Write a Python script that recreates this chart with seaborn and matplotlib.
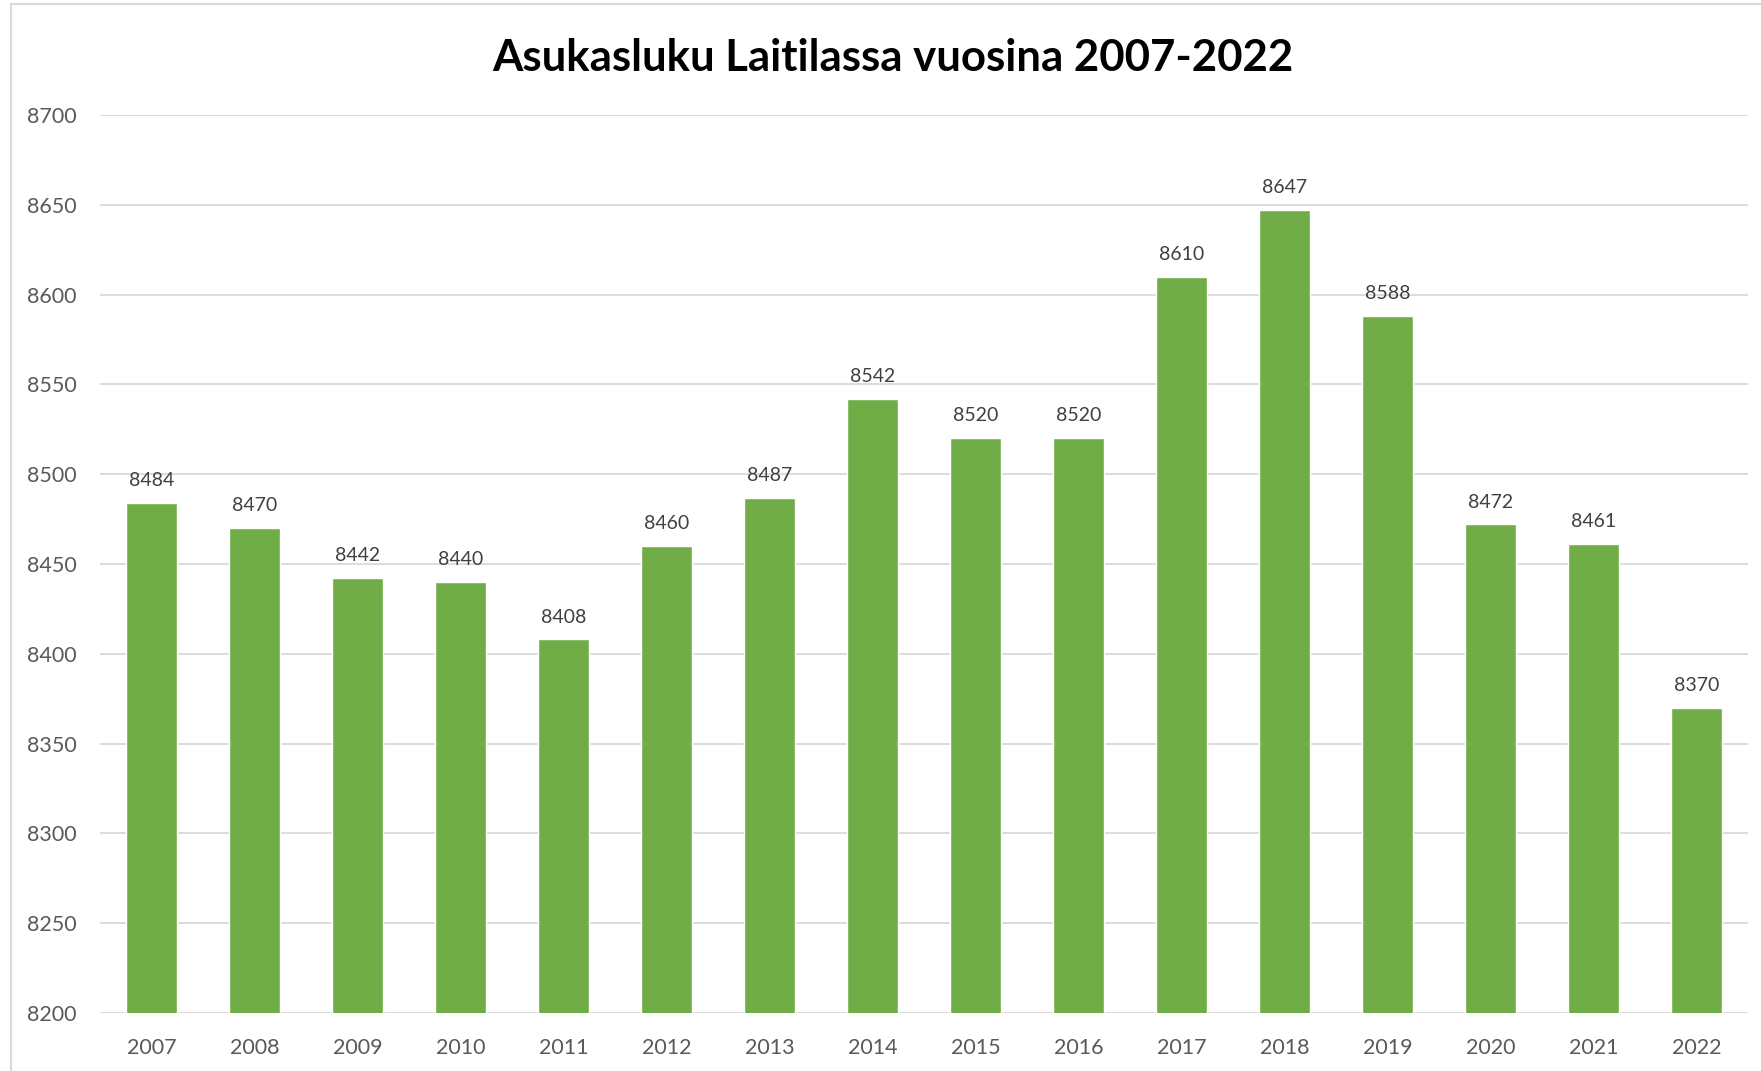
import matplotlib
matplotlib.use("Agg")
import matplotlib.pyplot as plt
import seaborn as sns
import pandas as pd
from matplotlib.patches import Rectangle

years = ["2007", "2008", "2009", "2010", "2011", "2012", "2013", "2014",
         "2015", "2016", "2017", "2018", "2019", "2020", "2021", "2022"]
population = [8484, 8470, 8442, 8440, 8408, 8460, 8487, 8542,
              8520, 8520, 8610, 8647, 8588, 8472, 8461, 8370]
y_ticks = [8200, 8250, 8300, 8350, 8400, 8450, 8500, 8550, 8600, 8650, 8700]

df = pd.DataFrame({"year": years, "population": population})

sns.set_style("white")
plt.rcParams["font.family"] = ["Lato", "DejaVu Sans"]

fig = plt.figure(figsize=(17.61, 10.71), dpi=100)
ax = fig.add_axes([100 / 1761, 1 - 1013 / 1071, 1648 / 1761, (1013 - 115) / 1071])

sns.barplot(data=df, x="year", y="population", color="#70AD47",
            saturation=1, width=0.5, ax=ax)

ax.set_ylim(8200, 8700)
ax.set_yticks(y_ticks)
ax.set_xlim(-0.5, len(years) - 0.5)
ax.yaxis.grid(True, color="#D9D9D9", linewidth=1.3)
ax.set_axisbelow(True)
for s in ax.spines.values():
    s.set_visible(False)
ax.set_xlabel("")
ax.set_ylabel("")
ax.tick_params(axis="both", length=0, labelsize=15.5, colors="#595959")
ax.tick_params(axis="y", pad=17)
ax.tick_params(axis="x", pad=18)

ax.bar_label(ax.containers[0], fmt="%d", padding=10, fontsize=14, color="#404040")

fig.text(0.507, 1 - 58 / 1071, "Asukasluku Laitilassa vuosina 2007-2022",
         ha="center", va="center", fontsize=31.5, fontweight="bold", color="black")

# light frame around the chart area (left and top edges visible)
fig.add_artist(Rectangle((11 / 1761, -0.1), 1.2, 1 - 4 / 1071 + 0.1,
                         transform=fig.transFigure, fill=False,
                         edgecolor="#D9D9D9", linewidth=1.5))

plt.savefig("out.png", dpi=100)
